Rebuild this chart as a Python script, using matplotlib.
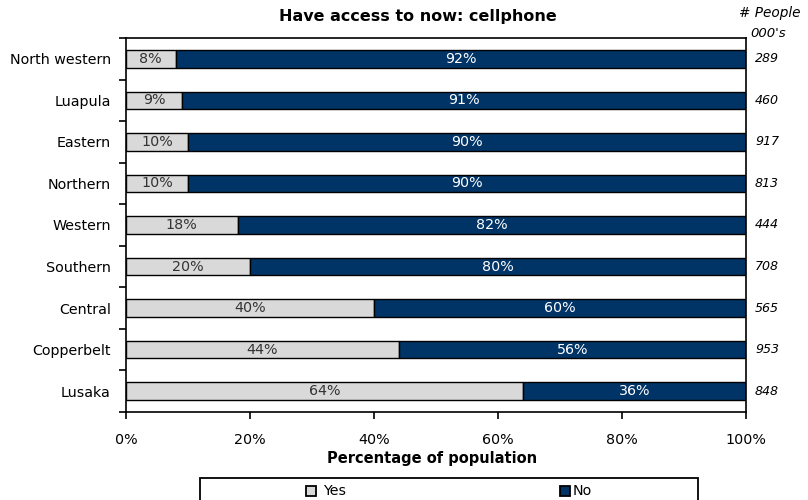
import matplotlib
matplotlib.use("Agg")
import matplotlib.pyplot as plt
import matplotlib.transforms as mtransforms
import numpy as np
from matplotlib.patches import Rectangle

regions = ["North western", "Luapula", "Eastern", "Northern", "Western",
           "Southern", "Central", "Copperbelt", "Lusaka"]
yes_pct = [8, 9, 10, 10, 18, 20, 40, 44, 64]
no_pct = [92, 91, 90, 90, 82, 80, 60, 56, 36]
people_000s = [289, 460, 917, 813, 444, 708, 565, 953, 848]
x_ticks = [0, 20, 40, 60, 80, 100]
legend_labels = ["Yes", "No"]

yes_color = "#D9D9D9"
no_color = "#003366"

plt.rcParams["font.family"] = ["DejaVu Sans"]

W, H = 808, 500
fig = plt.figure(figsize=(W / 100, H / 100), dpi=100)
ax = fig.add_axes([126 / W, 1 - 412 / H, 620 / W, 374 / H])

n = len(regions)
y = np.arange(n)
h = 0.42
ax.barh(y, yes_pct, height=h, color=yes_color, edgecolor="black", linewidth=1.0)
ax.barh(y, no_pct, left=yes_pct, height=h, color=no_color, edgecolor="black", linewidth=1.0)

# x in figure fraction, y in data units (for the right-hand population column)
right_col = mtransforms.blended_transform_factory(fig.transFigure, ax.transData)

fs = 10.3
for i in range(n):
    ax.text(yes_pct[i] / 2, y[i], f"{yes_pct[i]}%", ha="center", va="center",
            fontsize=fs, color="#333333")
    ax.text(yes_pct[i] + no_pct[i] / 2, y[i], f"{no_pct[i]}%", ha="center", va="center",
            fontsize=fs, color="white")
    ax.text(767 / W, y[i], f"{people_000s[i]}", transform=right_col,
            ha="center", va="center", fontsize=fs - 1.2, style="italic")

fig.text(770 / W, 1 - 13 / H, "# People", ha="center", va="center",
         fontsize=fs - 0.5, style="italic")
fig.text(768 / W, 1 - 33 / H, "000's", ha="center", va="center",
         fontsize=fs - 0.8, style="italic")

ax.set_xlim(0, 100)
ax.set_ylim(n - 0.5, -0.5)
ax.set_xticks(x_ticks)
ax.set_xticklabels([f"{v}%" for v in x_ticks], fontsize=fs)
ax.set_yticks(y)
ax.set_yticklabels(regions, fontsize=fs)
ax.tick_params(axis="y", which="major", length=0, pad=11)
ax.set_yticks(np.arange(n + 1) - 0.5, minor=True)
ax.tick_params(axis="y", which="minor", length=5, width=1.2, direction="out")
ax.tick_params(axis="x", which="major", length=5, width=1.2, direction="out", pad=10)

for s in ax.spines.values():
    s.set_linewidth(1.2)
    s.set_color("black")

fig.text(432 / W, 1 - 459 / H, "Percentage of population", ha="center", va="center",
         fontsize=10.5, fontweight="bold")
fig.text(418 / W, 1 - 17 / H, "Have access to now: cellphone", ha="center", va="center",
         fontsize=11.5, fontweight="bold")

# legend box, drawn by hand so it can run off the bottom edge
fig.add_artist(Rectangle((200 / W, 1 - 512 / H), 498 / W, 34 / H, transform=fig.transFigure,
                         facecolor="white", edgecolor="black", linewidth=1.3))
for (x0, tx), lab, col in zip([(306, 323), (560, 573)], legend_labels, [yes_color, no_color]):
    fig.add_artist(Rectangle((x0 / W, 1 - 496 / H), 10 / W, 10 / H, transform=fig.transFigure,
                             facecolor=col, edgecolor="black", linewidth=1.3))
    fig.text(tx / W, 1 - 491 / H, lab, ha="left", va="center", fontsize=fs)

fig.savefig("out.png", dpi=100)
